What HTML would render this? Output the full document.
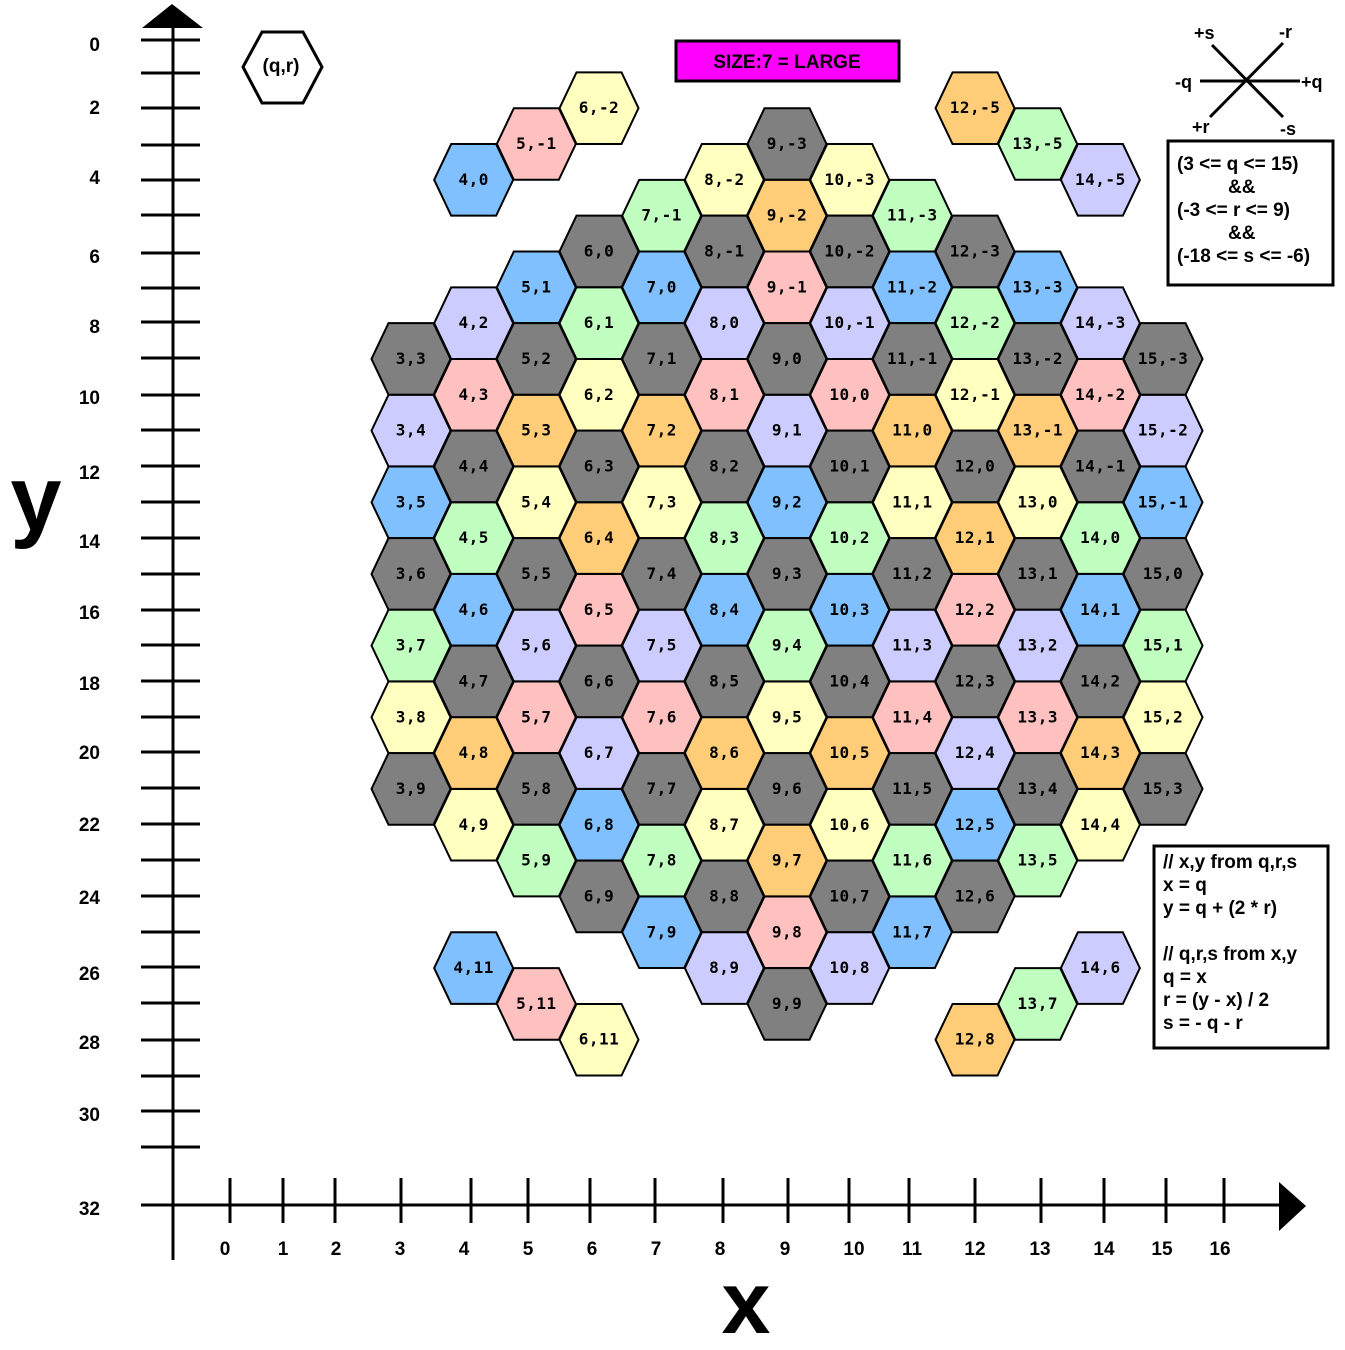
<!DOCTYPE html>
<html><head><meta charset="utf-8"><style>
html,body{margin:0;padding:0;background:#fff;}
svg{display:block;}
text{font-family:"Liberation Sans",sans-serif;font-weight:bold;}
.hl{font-family:"DejaVu Sans Mono",monospace;font-size:16px;font-weight:bold;letter-spacing:0.5px;}
</style></head><body>
<svg id="chart" width="1345" height="1350" viewBox="0 0 1345 1350" xmlns="http://www.w3.org/2000/svg">
<g id="axes"></g>
<g id="hexes"></g>
<g>
<polygon points="243,67 262,32 303,32 322,67 303,103 262,103" fill="#fff" stroke="#000" stroke-width="3"/>
<text x="281" y="72" font-size="19" text-anchor="middle">(q,r)</text>
</g>
<g>
<rect x="676" y="41" width="223" height="40" fill="#ff00ff" stroke="#000" stroke-width="3"/>
<text x="787" y="68" font-size="19" text-anchor="middle">SIZE:7 = LARGE</text>
</g>
<g stroke="#000" stroke-width="3">
<line x1="1200" y1="81" x2="1300" y2="81"/>
<line x1="1212" y1="45" x2="1283" y2="117"/>
<line x1="1283" y1="43" x2="1210" y2="117"/>
</g>
<g font-size="18">
<text x="1194" y="39">+s</text><text x="1279" y="38">-r</text>
<text x="1175" y="88">-q</text><text x="1301" y="88">+q</text>
<text x="1192" y="133">+r</text><text x="1280" y="135">-s</text>
</g>
<g>
<rect x="1168" y="141" width="165" height="144" fill="#fff" stroke="#000" stroke-width="3"/>
<g font-size="19">
<text x="1177" y="170">(3 &lt;= q &lt;= 15)</text>
<text x="1228" y="193">&amp;&amp;</text>
<text x="1177" y="216">(-3 &lt;= r &lt;= 9)</text>
<text x="1228" y="239">&amp;&amp;</text>
<text x="1177" y="262">(-18 &lt;= s &lt;= -6)</text>
</g></g>
<g>
<rect x="1154" y="846" width="174" height="202" fill="#fff" stroke="#000" stroke-width="3"/>
<g font-size="19">
<text x="1163" y="868">// x,y from q,r,s</text>
<text x="1163" y="891">x = q</text>
<text x="1163" y="914">y = q + (2 * r)</text>
<text x="1163" y="960">// q,r,s from x,y</text>
<text x="1163" y="983">q = x</text>
<text x="1163" y="1006">r = (y - x) / 2</text>
<text x="1163" y="1029">s = - q - r</text>
</g></g>
<text x="36" y="530" font-size="92" text-anchor="middle">y</text>
<text x="746" y="1333" font-size="88" text-anchor="middle">x</text>
<script>
const NS="http://www.w3.org/2000/svg";
const yTickPos=[40,73,108,145,180,215,253,288,322,358,395,430,466,502,538,574,610,645,681,717,752,788,824,860,896,932,967,1003,1040,1076,1111,1147];
const yLabels=["0","2","4","6","8","10","12","14","16","18","20","22","24","26","28","30","32"];
const yLabelPos=[45,108,178,257,327,398,473,542,613,684,753,825,898,974,1043,1115,1209];
const xLabels=["0","1","2","3","4","5","6","7","8","9","10","11","12","13","14","15","16"];
const xTickPos=[230,283,335,401,471,528,590,655,723,788,849,909,975,1041,1104,1166,1224];
const xLabelPos=[225,283,336,400,464,528,592,656,720,785,854,912,975,1040,1104,1162,1220];
// hex data: q, r, color key
const hexQ=[3,3,3,3,3,3,3, 4,4,4,4,4,4,4,4,4,4, 5,5,5,5,5,5,5,5,5,5,5, 6,6,6,6,6,6,6,6,6,6,6,6, 7,7,7,7,7,7,7,7,7,7,7, 8,8,8,8,8,8,8,8,8,8,8,8, 9,9,9,9,9,9,9,9,9,9,9,9,9, 10,10,10,10,10,10,10,10,10,10,10,10, 11,11,11,11,11,11,11,11,11,11,11, 12,12,12,12,12,12,12,12,12,12,12,12, 13,13,13,13,13,13,13,13,13,13,13, 14,14,14,14,14,14,14,14,14,14, 15,15,15,15,15,15,15];
const hexR=[3,4,5,6,7,8,9, 0,2,3,4,5,6,7,8,9,11, -1,1,2,3,4,5,6,7,8,9,11, -2,0,1,2,3,4,5,6,7,8,9,11, -1,0,1,2,3,4,5,6,7,8,9, -2,-1,0,1,2,3,4,5,6,7,8,9, -3,-2,-1,0,1,2,3,4,5,6,7,8,9, -3,-2,-1,0,1,2,3,4,5,6,7,8, -3,-2,-1,0,1,2,3,4,5,6,7, -5,-3,-2,-1,0,1,2,3,4,5,6,8, -5,-3,-2,-1,0,1,2,3,4,5,7, -5,-3,-2,-1,0,1,2,3,4,6, -3,-2,-1,0,1,2,3];
const hexC=["k","l","b","k","g","y","k", "b","l","p","k","g","b","k","o","y","b", "p","b","k","o","y","k","l","p","k","g","p", "y","k","g","y","k","o","p","k","l","b","k","y", "g","b","k","o","y","k","l","p","k","g","b", "y","k","l","p","k","g","b","k","o","y","k","l", "k","o","p","k","l","b","k","g","y","k","o","p","k", "y","k","l","p","k","g","b","k","o","y","k","l", "g","b","k","o","y","k","l","p","k","g","b", "o","k","g","y","k","o","p","k","l","b","k","o", "g","b","k","o","y","k","l","p","k","g","g", "l","l","p","k","g","b","k","o","y","l", "k","l","b","k","g","y","k"];
const palette={k:"#808080",l:"#ccccff",b:"#80c0ff",g:"#c0ffc0",y:"#ffffc0",p:"#ffc0c0",o:"#ffcc77"};
const px=q=>411+(q-3)*62.67;
const py=(q,r)=>35.83*(q+2*r)+36.5;
function mk(tag,attrs,parent){const e=document.createElementNS(NS,tag);for(const k in attrs)e.setAttribute(k,attrs[k]);parent.appendChild(e);return e;}
const axes=document.getElementById('axes');
let e;
e=mk('line',{x1:173,y1:20,x2:173,y2:1260,stroke:'#000','stroke-width':3},axes);


e=mk('polygon',{points:'142,28 172,4 203,28',fill:'#000'},axes);


e=mk('line',{x1:141,y1:1205,x2:1282,y2:1205,stroke:'#000','stroke-width':3},axes);


e=mk('polygon',{points:'1279,1182 1306,1206 1279,1231',fill:'#000'},axes);


yTickPos.forEach(y=>{const t=mk('line',{x1:141,y1:y,x2:200,y2:y,stroke:'#000','stroke-width':3},axes);

});
yLabels.forEach((s,i)=>{const t=mk('text',{x:100,y:yLabelPos[i]+6,'font-size':19,'text-anchor':'end'},axes);t.textContent=s;

});
xTickPos.forEach(x=>{const t=mk('line',{x1:x,y1:1178,x2:x,y2:1223,stroke:'#000','stroke-width':3},axes);

});
xLabels.forEach((s,i)=>{const t=mk('text',{x:xLabelPos[i],y:1255,'font-size':19,'text-anchor':'middle'},axes);t.textContent=s;

});
const hg=document.getElementById('hexes');
hexQ.forEach((q,i)=>{const r=hexR[i];const cx=px(q),cy=py(q,r);
const g=mk('g',{},hg);


const pts=[[-39.5,0],[-22.5,-35.8],[22.5,-35.8],[39.5,0],[22.5,35.8],[-22.5,35.8]].map(p=>(cx+p[0])+','+(cy+p[1])).join(' ');
mk('polygon',{points:pts,fill:palette[hexC[i]],stroke:'#000','stroke-width':2},g);
const t=mk('text',{x:cx,y:cy+5,'text-anchor':'middle',class:'hl'},g);t.textContent=q+','+r;
});
</script>
</svg>
</body></html>
